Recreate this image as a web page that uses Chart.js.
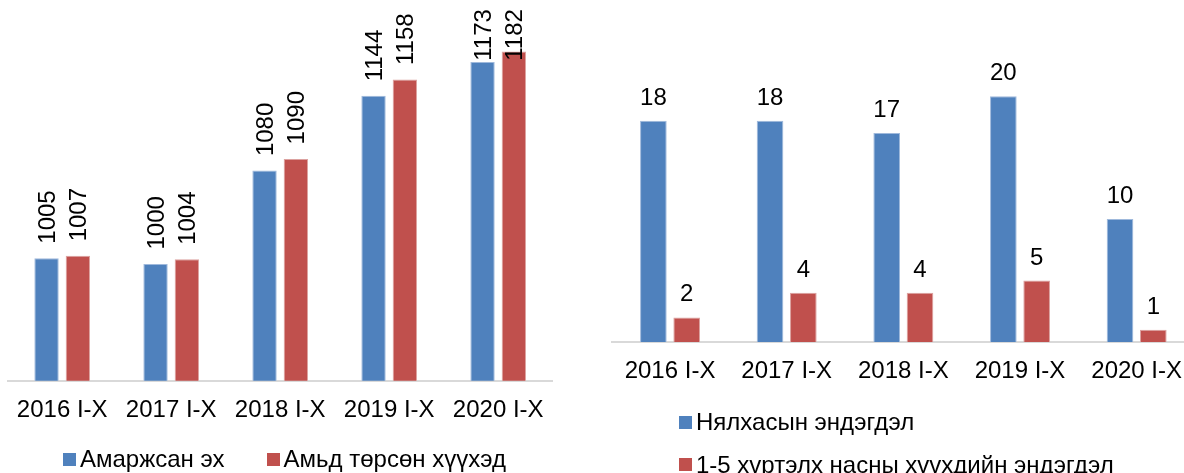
<!DOCTYPE html>
<html lang="mn">
<head>
<meta charset="utf-8">
<title>Эх, хүүхдийн үзүүлэлт</title>
<script src="https://cdn.jsdelivr.net/npm/chart.js@4.4.1/dist/chart.umd.min.js"></script>
<style>
    html, body { margin: 0; padding: 0; background: #fff; }
    body { width: 1184px; height: 473px; position: relative; overflow: hidden; font-family: 'Liberation Sans', Arial, sans-serif; }
    .caja-grafica { position: absolute; top: 0; }
    #caja-izq { left: 0; width: 560px; height: 456px; }
    #caja-der { left: 600px; width: 600px; height: 416px; }
    .leyenda { position: absolute; font-size: 24px; line-height: 24px; color: #000; }
    .leyenda-item { display: flex; align-items: center; white-space: nowrap; }
    .leyenda-cuadro { width: 13px; height: 13px; margin-right: 4px; flex: none; }
    #leyenda-izq { left: 63px; top: 447px; display: flex; }
    #leyenda-izq .leyenda-item { margin-right: 42px; }
    #leyenda-der { left: 679px; top: 410px; }
    #leyenda-der .leyenda-item { margin-bottom: 18.5px; }
</style>
</head>
<body>
<div class="caja-grafica" id="caja-izq"><canvas id="graficaNacimientos"></canvas></div>
<div class="caja-grafica" id="caja-der"><canvas id="graficaMortalidad"></canvas></div>
<div class="leyenda" id="leyenda-izq"></div>
<div class="leyenda" id="leyenda-der"></div>

<script>
const FUENTE = "'Liberation Sans', Arial, sans-serif";
const AZUL = '#4f81bd';
const ROJO = '#c0504d';

const periodos = ['2016 I-X', '2017 I-X', '2018 I-X', '2019 I-X', '2020 I-X'];

// ээж ба амьд төрсөн хүүхэд
const amarjsanEh = [1005, 1000, 1080, 1144, 1173];
const amidTorson = [1007, 1004, 1090, 1158, 1182];

// эндэгдэл
const nyalhasEndegdel = [18, 18, 17, 20, 10];
const huuhdiinEndegdel = [2, 4, 4, 5, 1];

const etiquetasValores = {
    id: 'etiquetasValores',
    afterDatasetsDraw(chart, args, opts) {
        const ctx = chart.ctx;
        ctx.save();
        ctx.font = '24px ' + FUENTE;
        ctx.fillStyle = '#000';
        chart.data.datasets.forEach((ds, i) => {
            chart.getDatasetMeta(i).data.forEach((bar, j) => {
                const texto = String(ds.data[j]);
                if (opts.vertical) {
                    const w = ctx.measureText(texto).width;
                    const inicio = Math.max(bar.y - 14.5, chart.chartArea.top + 2 + w);
                    ctx.save();
                    ctx.translate(bar.x + 8.6, inicio);
                    ctx.rotate(-Math.PI / 2);
                    ctx.textAlign = 'left';
                    ctx.textBaseline = 'alphabetic';
                    ctx.fillText(texto, 0, 0);
                    ctx.restore();
                } else {
                    ctx.textAlign = 'center';
                    ctx.textBaseline = 'alphabetic';
                    ctx.fillText(texto, bar.x, bar.y - 16);
                }
            });
        });
        ctx.restore();
    }
};

function opcionesBase(padding, min, max, vertical) {
    return {
        responsive: true,
        maintainAspectRatio: false,
        animation: false,
        layout: { padding: padding },
        plugins: {
            legend: { display: false },
            tooltip: { enabled: false },
            etiquetasValores: { vertical: vertical }
        },
        scales: {
            x: {
                grid: { display: false, drawTicks: false },
                border: { display: true, color: '#d9d9d9', width: 2 },
                ticks: { color: '#000', font: { size: 24, family: FUENTE }, padding: 15, maxRotation: 0, autoSkip: false }
            },
            y: { display: false, min: min, max: max }
        }
    };
}

function dataset(label, datos, color, borde, catPct, barPct) {
    return {
        label: label,
        data: datos,
        backgroundColor: color,
        borderColor: borde,
        borderWidth: 1,
        categoryPercentage: catPct,
        barPercentage: barPct
    };
}

function armarLeyenda(idContenedor, chart) {
    const cont = document.getElementById(idContenedor);
    chart.data.datasets.forEach(ds => {
        const item = document.createElement('div');
        item.className = 'leyenda-item';
        const cuadro = document.createElement('span');
        cuadro.className = 'leyenda-cuadro';
        cuadro.style.background = ds.backgroundColor;
        const txt = document.createElement('span');
        txt.textContent = ds.label;
        item.appendChild(cuadro);
        item.appendChild(txt);
        cont.appendChild(item);
    });
}

const chartNacimientos = new Chart(document.getElementById('graficaNacimientos'), {
    type: 'bar',
    data: {
        labels: periodos,
        datasets: [
            dataset('Амаржсан эх', amarjsanEh, AZUL, '#9fb9dc', 0.575, 0.778),
            dataset('Амьд төрсөн хүүхэд', amidTorson, ROJO, '#dca2a0', 0.575, 0.778)
        ]
    },
    options: opcionesBase({ left: 7.7, right: 7.3, top: 7.1, bottom: 16.4 }, 900, 1220, true),
    plugins: [etiquetasValores]
});

const chartMortalidad = new Chart(document.getElementById('graficaMortalidad'), {
    type: 'bar',
    data: {
        labels: periodos,
        datasets: [
            dataset('Нялхасын эндэгдэл', nyalhasEndegdel, AZUL, '#9fb9dc', 0.571, 0.8),
            dataset('1-5 хүртэлх насны хүүхдийн эндэгдэл', huuhdiinEndegdel, ROJO, '#dca2a0', 0.571, 0.8)
        ]
    },
    options: opcionesBase({ left: 11.7, right: 5, top: 34.75, bottom: 15.2 }, 0, 25, false),
    plugins: [etiquetasValores]
});

armarLeyenda('leyenda-izq', chartNacimientos);
armarLeyenda('leyenda-der', chartMortalidad);
</script>
</body>
</html>
